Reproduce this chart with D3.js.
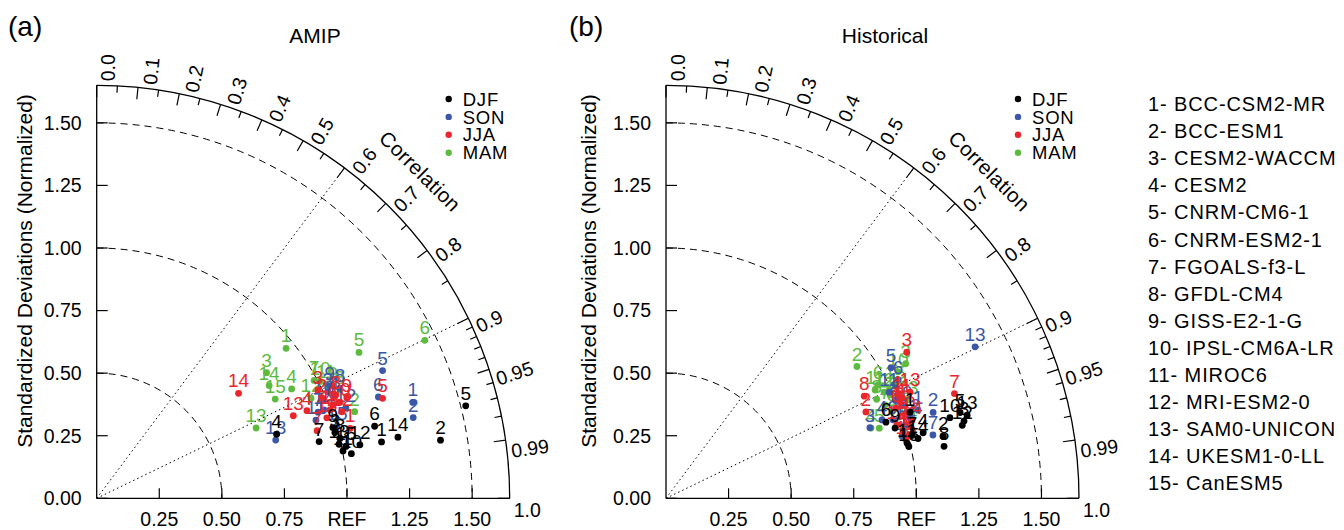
<!DOCTYPE html>
<html>
<head>
<meta charset="utf-8">
<script src="https://cdn.jsdelivr.net/npm/d3@7"></script>
<style>
  body { margin: 0; background: #fff; }
  svg text { font-family: "Liberation Sans", Arial, Helvetica, sans-serif; fill: #000; }
</style>
</head>
<body>
<svg id="chart" width="1344" height="530"></svg>
<script>
const models = ["BCC-CSM2-MR", "BCC-ESM1", "CESM2-WACCM", "CESM2", "CNRM-CM6-1",
  "CNRM-ESM2-1", "FGOALS-f3-L", "GFDL-CM4", "GISS-E2-1-G", "IPSL-CM6A-LR",
  "MIROC6", "MRI-ESM2-0", "SAM0-UNICON", "UKESM1-0-LL", "CanESM5"];
const seasons = ["DJF", "SON", "JJA", "MAM"];
const seasonColors = ["#000000", "#3b58a8", "#e8262b", "#5cbb3e"];

const corrMajor = [0, 0.1, 0.2, 0.3, 0.4, 0.5, 0.6, 0.7, 0.8, 0.9, 0.95, 0.99, 1.0];
const corrMinor = [0.05, 0.15, 0.25, 0.35, 0.45, 0.55, 0.65, 0.75, 0.85,
  0.91, 0.92, 0.93, 0.94, 0.96, 0.97, 0.98];
const stdTicks = [0, 0.25, 0.5, 0.75, 1.0, 1.25, 1.5];
const xTicks = [0.25, 0.5, 0.75, 1.0, 1.25, 1.5];
const xTickLabels = ["0.25", "0.50", "0.75", "REF", "1.25", "1.50"];
const stdArcs = [0.5, 1.0, 1.5];
const refCorr = [0.6, 0.9];

// [normalized std, correlation] for models 1..15
const amipDJF = [[1.160,.981],[1.393,.986],[.987,.964],[.763,.942],[1.520,.970],[1.147,.968],[.917,.969],[1.001,.971],
  [.985,.958],[1.033,.985],[1.002,.982],[1.073,.980],[.992,.976],[1.228,.980],[1.017,.979]];
const amipSON = [[1.320,.957],[1.305,.969],[1.017,.908],[1.032,.918],[1.251,.913],[1.196,.941],[.949,.932],[1.067,.911],
  [1.034,.901],[.989,.918],[.930,.942],[1.059,.940],[.752,.951],[.974,.932],[1.002,.958]];
const amipJJA = [[1.050,.964],[.985,.913],[.984,.898],[.910,.923],[1.210,.944],[1.015,.930],[.921,.956],[1.041,.918],
  [1.077,.928],[1.045,.930],[.997,.935],[1.039,.943],[.852,.922],[.705,.804],[.974,.944]];
const amipMAM = [[.965,.784],[1.087,.948],[.844,.804],[.893,.872],[1.199,.874],[1.455,.901],[.988,.879],[1.064,.913],
  [1.045,.903],[1.007,.886],[1.023,.895],[.945,.906],[.696,.915],[.823,.837],[.816,.874]];

const histDJF = [[1.034,.943],[1.135,.976],[1.230,.968],[1.060,.969],[1.224,.960],[.930,.945],[1.014,.969],[1.130,.983],
  [.957,.956],[1.179,.962],[.988,.975],[1.219,.971],[1.248,.964],[1.035,.973],[.992,.978]];
const histSON = [[1.067,.944],[1.121,.952],[.862,.945],[.918,.940],[1.039,.865],[1.041,.891],[1.096,.973],[.996,.919],
  [.959,.945],[1.014,.930],[.987,.903],[1.026,.950],[1.375,.898],[.999,.956],[.975,.967]];
const histJJA = [[1.015,.913],[.870,.918],[1.125,.855],[1.011,.925],[.983,.963],[.987,.931],[1.226,.940],[.891,.889],
  [.999,.968],[1.011,.944],[1.025,.920],[.968,.953],[1.063,.917],[1.031,.953],[.987,.972]];
const histMAM = [[.986,.908],[.927,.823],[1.098,.872],[.866,.946],[.897,.950],[.961,.882],[.951,.920],[.930,.905],
  [.967,.934],[1.056,.878],[.941,.888],[.969,.899],[1.044,.926],[1.005,.957],[1.021,.896]];

const svg = d3.select("#chart");
const r = d3.scaleLinear().domain([0, 1.65]).range([0, 413]);
const rMax = 1.65;

function pos(s, c) {
  const a = Math.acos(c);
  return [r(s) * Math.cos(a), -r(s) * Math.sin(a)];
}

function quarterArc(rad) {
  const p = d3.path();
  p.arc(0, 0, rad, -Math.PI / 2, 0);
  return p.toString();
}

function drawTaylor(ox, oy, o) {
  const g = svg.append("g").attr("transform", `translate(${ox},${oy})`);

  // std dev dashed arcs
  stdArcs.forEach(s => {
    g.append("path").attr("d", quarterArc(r(s)))
      .attr("fill", "none").attr("stroke", "#000").attr("stroke-width", 1)
      .attr("stroke-dasharray", "7,5");
  });

  // dotted reference correlation lines
  refCorr.forEach(c => {
    const [x, y] = pos(rMax, c);
    g.append("line").attr("x1", 0).attr("y1", 0).attr("x2", x).attr("y2", y)
      .attr("stroke", "#000").attr("stroke-width", 1).attr("stroke-dasharray", "1.5,3");
  });

  // outer arc and axes
  g.append("path").attr("d", quarterArc(r(rMax)))
    .attr("fill", "none").attr("stroke", "#000").attr("stroke-width", 1.3);
  g.append("line").attr("x1", 0).attr("y1", 0).attr("x2", 0).attr("y2", -r(rMax))
    .attr("stroke", "#000").attr("stroke-width", 1.3);
  g.append("line").attr("x1", 0).attr("y1", 0).attr("x2", r(rMax)).attr("y2", 0)
    .attr("stroke", "#000").attr("stroke-width", 1.3);

  // y ticks + labels
  stdTicks.forEach(v => {
    g.append("line").attr("x1", 0).attr("x2", 11).attr("y1", -r(v)).attr("y2", -r(v))
      .attr("stroke", "#000").attr("stroke-width", 1.2);
    g.append("text").attr("x", -15).attr("y", -r(v)).attr("dy", "0.35em")
      .attr("text-anchor", "end").style("font-size", "19.5px").text(v.toFixed(2));
  });

  // x ticks + labels
  xTicks.forEach((v, i) => {
    g.append("line").attr("x1", r(v)).attr("x2", r(v)).attr("y1", 0).attr("y2", -10)
      .attr("stroke", "#000").attr("stroke-width", 1.2);
    g.append("text").attr("x", r(v)).attr("y", 28)
      .attr("text-anchor", "middle").style("font-size", "19.5px").text(xTickLabels[i]);
  });

  // correlation ticks
  corrMinor.forEach(c => {
    const a = Math.acos(c), R = r(rMax);
    g.append("line")
      .attr("x1", R * Math.cos(a)).attr("y1", -R * Math.sin(a))
      .attr("x2", (R - 7) * Math.cos(a)).attr("y2", -(R - 7) * Math.sin(a))
      .attr("stroke", "#000").attr("stroke-width", 1.2);
  });
  corrMajor.forEach(c => {
    const a = Math.acos(c), R = r(rMax);
    g.append("line")
      .attr("x1", R * Math.cos(a)).attr("y1", -R * Math.sin(a))
      .attr("x2", (R - 12) * Math.cos(a)).attr("y2", -(R - 12) * Math.sin(a))
      .attr("stroke", "#000").attr("stroke-width", 1.2);
    const lx = (R + 4) * Math.cos(a), ly = -(R + 4) * Math.sin(a);
    g.append("text")
      .attr("transform", `translate(${lx},${ly}) rotate(${-a * 180 / Math.PI})`)
      .attr("dy", "0.95em")
      .style("font-size", "19.5px")
      .text(c === 1 ? "1.0" : String(c === 0 ? "0.0" : c));
  });

  // "Correlation" label
  {
    const a = Math.acos(0.703), R = 460;
    g.append("text")
      .attr("transform", `translate(${R * Math.cos(a)},${-R * Math.sin(a)}) rotate(${90 - a * 180 / Math.PI})`)
      .attr("text-anchor", "middle").attr("dy", "0.35em")
      .style("font-size", "20.5px").style("letter-spacing", "0.4px").text("Correlation");
  }

  // y axis title
  g.append("text")
    .attr("transform", `translate(${o.yTitleX},${271 - oy}) rotate(-90)`)
    .attr("text-anchor", "middle").attr("dy", "0.35em")
    .style("font-size", "21px").text("Standardized Deviations (Normalized)");

  // title and panel label
  g.append("text").attr("x", o.titleX - ox).attr("y", 43 - oy)
    .attr("text-anchor", "middle").style("font-size", "21px").text(o.title);
  g.append("text").attr("x", o.panelX - ox).attr("y", 36 - oy)
    .style("font-size", "28px").text(o.panel);

  // legend
  seasons.forEach((s, i) => {
    const ly = 99 + i * 17.9 - oy;
    g.append("circle").attr("cx", 352).attr("cy", ly).attr("r", 3.2).attr("fill", seasonColors[i]);
    g.append("text").attr("x", 366).attr("y", ly).attr("dy", "0.36em")
      .style("font-size", "18.5px").style("letter-spacing", "0.8px").text(s);
  });

  // points, drawn MAM, SON, JJA, DJF
  const order = [3, 1, 2, 0];
  order.forEach(si => {
    const pts = o.data[si];
    const layer = g.append("g");
    pts.forEach((d, k) => {
      const [x, y] = pos(d[0], d[1]);
      layer.append("circle").attr("cx", x).attr("cy", y).attr("r", 3.4)
        .attr("fill", seasonColors[si]);
      layer.append("text").attr("x", x).attr("y", y - 6)
        .attr("text-anchor", "middle").style("font-size", "19px")
        .style("fill", seasonColors[si]).text(k + 1);
    });
  });
}

drawTaylor(96.7, 498.3, {
  title: "AMIP", titleX: 315, panel: "(a)", panelX: 8, yTitleX: -72,
  data: [amipDJF, amipSON, amipJJA, amipMAM]
});
drawTaylor(666, 498.3, {
  title: "Historical", titleX: 885, panel: "(b)", panelX: 569, yTitleX: -77,
  data: [histDJF, histSON, histJJA, histMAM]
});

// model list
svg.append("g").selectAll("text").data(models).join("text")
  .attr("x", 1148).attr("y", (d, i) => 111 + i * 27.1)
  .style("font-size", "20px").style("letter-spacing", "0.9px")
  .text((d, i) => `${i + 1}- ${d}`);
</script>
</body>
</html>
